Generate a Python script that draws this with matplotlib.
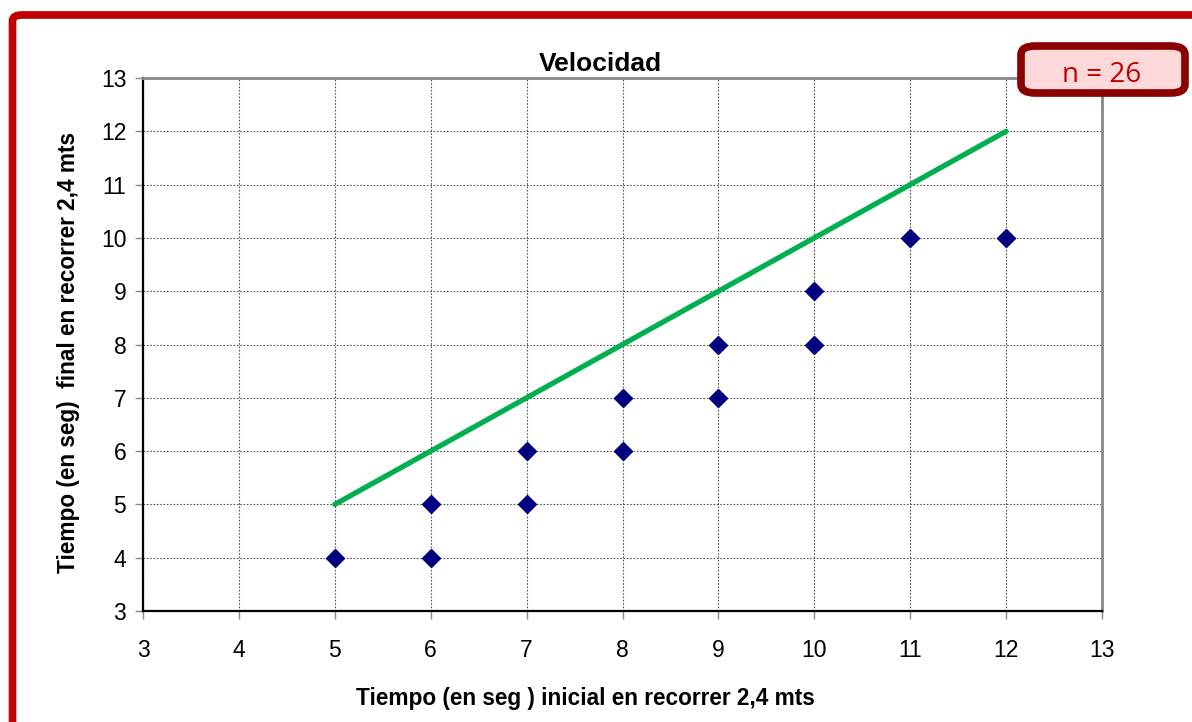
import matplotlib.pyplot as plt
from matplotlib.patches import FancyBboxPatch

# datos
t_inicial = [5, 6, 6, 7, 7, 8, 8, 9, 9, 10, 10, 11, 12]
t_final = [4, 4, 5, 5, 6, 6, 7, 7, 8, 8, 9, 10, 10]
linea_x = [5, 12]
linea_y = [5, 12]
ticks = list(range(3, 14))
n_texto = "n = 26"

plt.rcParams['font.family'] = ['Liberation Sans', 'DejaVu Sans']

W, H = 1192, 722
fig = plt.figure(figsize=(W / 100, H / 100), dpi=100)
ax = fig.add_axes([143 / W, 1 - 611 / H, (1102 - 143) / W, (611 - 78) / H])

# marco rojo
frame = FancyBboxPatch((12.5 / W, -0.2), 1.3, 1.2 - 15 / H,
                       boxstyle="round,pad=0,rounding_size=0.008",
                       transform=fig.transFigure, fill=False,
                       edgecolor='#C00000', linewidth=5.5, clip_on=False)
fig.patches.append(frame)

ax.plot(linea_x, linea_y, color='#00B050', lw=3.8, solid_capstyle='round', zorder=3)
ax.plot(t_inicial, t_final, 'D', color='#000080', markersize=9.5, zorder=4)

ax.set_xlim(3, 13)
ax.set_ylim(3, 13)
ax.set_xticks(ticks)
ax.set_yticks(ticks)
ax.grid(True, color='#555555', linestyle=(0, (1.5, 1.5)), linewidth=0.8)
ax.set_axisbelow(True)

for s in ['left', 'bottom']:
    ax.spines[s].set_color('black')
    ax.spines[s].set_linewidth(1.6)
for s in ['top', 'right']:
    ax.spines[s].set_color('#888888')
    ax.spines[s].set_linewidth(2)

ax.tick_params(axis='both', direction='out', length=6, width=1, color='#888888',
               labelsize=16.5)
ax.tick_params(axis='x', pad=14)
ax.tick_params(axis='y', pad=6)

ax.set_title('Velocidad', fontsize=19, fontweight='bold', x=0.4765, pad=5)
ax.set_xlabel('Tiempo (en seg ) inicial en recorrer 2,4 mts', fontsize=16.3,
              fontweight='bold')
ax.xaxis.set_label_coords(0.461, -0.143)
ax.set_ylabel('Tiempo (en seg)  final en recorrer 2,4 mts', fontsize=16.3,
              fontweight='bold')
ax.yaxis.set_label_coords(-0.066, 0.485)

# caja n
caja = FancyBboxPatch((1021 / W, 1 - 93 / H), (1185 - 1021) / W, (93 - 46) / H,
                      boxstyle="round,pad=0,rounding_size=0.012",
                      transform=fig.transFigure, facecolor='#FFD9D9',
                      edgecolor='#8B0000', linewidth=5.5, clip_on=False, zorder=5)
fig.patches.append(caja)
fig.text(1102 / W, 1 - 75 / H, n_texto, fontsize=20, color='#C00000',
         family=['Open Sans', 'DejaVu Sans'], ha='center', va='center', zorder=6)

fig.savefig('out.png', dpi=100)
